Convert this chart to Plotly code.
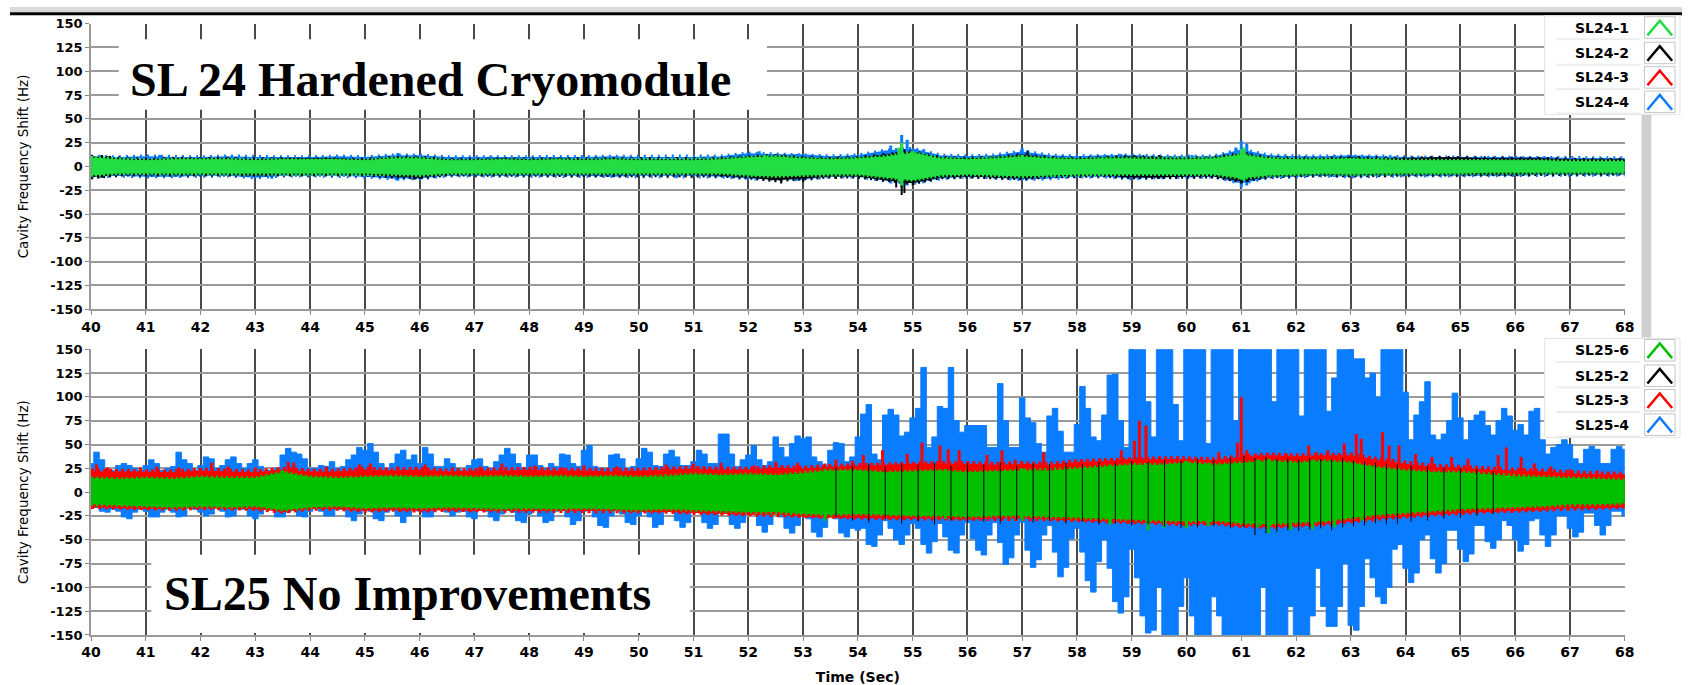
import plotly.graph_objects as go

W, H = 1692, 685

# ---------------- time grids ----------------
T_HALF = [40 + 0.5 * i for i in range(57)]            # 40.0 .. 68.0 step 0.5
T_TENTH = [round(40 + 0.1 * i, 1) for i in range(281)]  # 40.0 .. 68.0 step 0.1

X_TICKS = list(range(40, 69))
Y_TICKS = list(range(-150, 151, 25))

# ---------------- SL24 (top) envelopes, 0.5 s grid ----------------
TOP_G_UP = [9, 7, 6, 7, 7, 7, 6, 7, 7, 7,
            6, 8, 8, 6, 6, 7, 6, 7, 6, 7,
            6, 6, 6, 7, 9, 10, 8, 7, 8, 10,
            14, 8, 7, 8, 10, 8, 7, 8, 8, 7,
            7, 8, 12, 8, 7, 7, 8, 7, 6, 6,
            6, 6, 6, 6, 5, 5, 5]
TOP_G_LO = [-9, -7, -7, -7, -7, -7, -7, -7, -7, -7,
            -7, -8, -9, -7, -7, -7, -7, -7, -7, -7,
            -7, -7, -7, -7, -9, -10, -9, -8, -8, -11,
            -14, -9, -8, -9, -10, -9, -8, -8, -8, -8,
            -8, -8, -12, -9, -8, -7, -8, -7, -7, -7,
            -7, -6, -6, -6, -6, -6, -6]
TOP_K_UP = [10, 8, 7, 8, 8, 8, 7, 8, 8, 8,
            7, 9, 9, 7, 7, 8, 7, 8, 7, 8,
            7, 7, 7, 8, 10, 11, 9, 8, 9, 12,
            15, 9, 8, 9, 12, 9, 8, 9, 10, 9,
            8, 9, 13, 9, 8, 8, 9, 8, 8, 9,
            9, 8, 8, 8, 7, 7, 7]
TOP_K_LO = [-11, -8, -8, -8, -8, -8, -9, -8, -8, -8,
            -8, -10, -11, -8, -8, -8, -8, -8, -8, -8,
            -8, -8, -8, -9, -11, -14, -12, -10, -10, -14,
            -17, -11, -10, -11, -12, -10, -9, -9, -11, -11,
            -10, -10, -15, -10, -9, -8, -9, -8, -8, -8,
            -8, -8, -8, -7, -7, -7, -7]
TOP_B_UP = [10, 9, 10, 9, 9, 10, 9, 9, 9, 10,
            9, 11, 11, 9, 9, 9, 9, 9, 9, 10,
            9, 9, 9, 10, 13, 12, 12, 10, 11, 16,
            18, 11, 10, 11, 15, 11, 10, 11, 11, 10,
            10, 10, 17, 11, 10, 10, 11, 10, 9, 9,
            9, 9, 9, 9, 8, 8, 8]
TOP_B_LO = [-10, -9, -10, -10, -9, -9, -11, -9, -9, -9,
            -10, -12, -12, -9, -9, -9, -9, -9, -9, -10,
            -9, -9, -9, -10, -12, -13, -13, -10, -10, -14,
            -17, -12, -10, -11, -13, -12, -10, -10, -12, -11,
            -10, -10, -17, -11, -10, -9, -10, -9, -9, -9,
            -9, -9, -9, -8, -8, -8, -8]
TOP_R_UP = [8, 7, 7, 7, 7, 7, 7, 7, 7, 7,
            7, 8, 8, 7, 7, 7, 7, 7, 7, 7,
            7, 7, 7, 7, 8, 9, 8, 7, 8, 9,
            11, 8, 7, 8, 9, 8, 7, 8, 8, 7,
            7, 8, 10, 8, 7, 7, 8, 7, 7, 7,
            7, 6, 6, 6, 6, 6, 6]
TOP_R_LO = [-8, -7, -7, -7, -7, -7, -7, -7, -7, -7,
            -7, -8, -8, -7, -7, -7, -7, -7, -7, -7,
            -7, -7, -7, -7, -8, -9, -8, -7, -8, -9,
            -11, -8, -7, -8, -9, -8, -7, -8, -8, -7,
            -7, -8, -10, -8, -7, -7, -8, -7, -7, -7,
            -7, -6, -6, -6, -6, -6, -6]

# SL24 bursts (time, high, low)
TOP_B_SPK_T = [41.25, 43.3, 45.6, 45.9, 47.3, 50.7, 52.2, 52.9, 53.9, 54.6, 54.8, 54.9,
               55.2, 56.1, 57.0, 57.1, 58.8, 60.1, 60.9, 61.0, 61.1, 62.7, 63.4]
TOP_B_SPK_HI = [12, 9, 14, 12, 11, 10, 16, 13, 12, 22, 33, 28,
                18, 10, 19, 17, 13, 12, 20, 27, 24, 12, 11]
TOP_B_SPK_LO = [-9, -13, -15, -13, -10, -12, -13, -15, -11, -18, -22, -20,
                -14, -12, -14, -12, -10, -12, -16, -22, -20, -11, -10]
TOP_K_SPK_T = [40.2, 40.3, 45.9, 46.0, 52.6, 53.0, 53.6, 54.7, 54.8, 54.85, 55.3,
               56.5, 57.1, 59.5, 61.0, 61.1]
TOP_K_SPK_HI = [12, 11, 10, 10, 12, 11, 10, 15, 20, 18, 12, 11, 16, 12, 16, 15]
TOP_K_SPK_LO = [-12, -10, -14, -13, -18, -16, -13, -22, -30, -28, -15, -12, -13, -13, -18, -16]
TOP_G_SPK_T = [52.3, 54.75, 54.8, 55.0, 57.0, 61.0, 61.05]
TOP_G_SPK_HI = [12, 20, 25, 16, 12, 18, 20]
TOP_G_SPK_LO = [-10, -16, -20, -14, -10, -14, -15]

# ---------------- SL25 (bottom) envelopes, 0.5 s grid ----------------
GRN_UP = [14, 13, 14, 13, 15, 14, 14, 20, 15, 14,
          15, 16, 15, 16, 15, 16, 15, 16, 15, 16,
          15, 16, 18, 17, 18, 17, 19, 22, 22, 20,
          21, 22, 20, 21, 22, 22, 24, 26, 28, 28,
          30, 28, 30, 32, 30, 32, 30, 25, 22, 20,
          20, 18, 16, 15, 14, 13, 12]
GRN_LO = [-12, -13, -14, -15, -14, -15, -14, -18, -15, -14,
          -16, -15, -16, -15, -16, -17, -16, -17, -16, -17,
          -18, -17, -18, -19, -20, -20, -22, -23, -22, -23,
          -24, -24, -25, -24, -24, -25, -26, -27, -28, -29,
          -30, -29, -32, -33, -31, -30, -26, -23, -21, -19,
          -17, -16, -15, -14, -12, -12, -11]
RED_UP = [21, 21, 21, 20, 22, 21, 20, 23, 21, 21,
          23, 22, 23, 21, 22, 22, 23, 22, 22, 21,
          22, 23, 24, 23, 23, 25, 24, 26, 27, 28,
          29, 29, 29, 28, 29, 28, 31, 32, 34, 34,
          34, 33, 36, 38, 37, 38, 38, 33, 29, 26,
          25, 23, 22, 21, 19, 18, 18]
RED_LO = [-15, -16, -17, -17, -16, -17, -17, -20, -17, -17,
          -19, -18, -19, -18, -19, -19, -19, -19, -19, -19,
          -20, -20, -21, -22, -23, -23, -25, -26, -26, -27,
          -27, -27, -28, -27, -27, -28, -29, -30, -31, -32,
          -33, -32, -35, -36, -35, -33, -30, -27, -25, -23,
          -21, -20, -19, -18, -16, -16, -15]

# SL25-4 (blue) envelope, 0.1 s grid
BLUE_UP = [30, 42, 34, 23, 23, 28, 30, 28, 25, 23,
           28, 34, 30, 23, 25, 27, 42, 34, 30, 23,
           28, 37, 35, 25, 28, 34, 37, 30, 25, 30,
           34, 27, 23, 23, 25, 39, 46, 42, 40, 35,
           25, 25, 28, 27, 32, 25, 27, 34, 39, 47,
           44, 51, 42, 30, 25, 30, 40, 44, 34, 39,
           30, 47, 40, 27, 27, 35, 30, 25, 23, 28,
           34, 35, 27, 25, 32, 39, 46, 40, 30, 25,
           39, 39, 28, 25, 30, 27, 40, 39, 30, 27,
           44, 49, 27, 25, 25, 39, 40, 35, 25, 27,
           35, 46, 42, 28, 27, 40, 44, 37, 28, 28,
           32, 44, 40, 30, 30, 61, 61, 40, 27, 34,
           39, 49, 34, 28, 32, 58, 47, 37, 51, 59,
           56, 58, 37, 32, 28, 44, 52, 51, 32, 37,
           58, 82, 92, 40, 34, 81, 87, 81, 59, 63,
           78, 88, 131, 47, 58, 90, 88, 131, 75, 63,
           70, 70, 70, 70, 47, 47, 114, 75, 47, 47,
           99, 78, 73, 51, 42, 80, 88, 64, 42, 42,
           71, 111, 88, 58, 54, 81, 123, 124, 75, 47,
           150, 150, 150, 95, 58, 150, 150, 150, 92, 54,
           150, 150, 150, 150, 51, 150, 150, 150, 150, 75,
           150, 150, 150, 150, 150, 150, 95, 150, 150, 150,
           150, 80, 150, 150, 150, 150, 85, 120, 150, 150,
           150, 140, 140, 120, 125, 100, 150, 150, 150, 150,
           105, 55, 81, 95, 116, 60, 55, 61, 75, 104,
           78, 55, 75, 81, 85, 70, 60, 75, 88, 80,
           65, 71, 60, 85, 88, 55, 40, 47, 50, 55,
           50, 35, 30, 45, 48, 45, 30, 30, 45, 48,
           45]
BLUE_LO = [-13, -16, -20, -21, -18, -20, -26, -28, -21, -18,
           -20, -26, -26, -21, -18, -21, -26, -25, -16, -18,
           -21, -25, -23, -16, -20, -26, -25, -18, -18, -25,
           -28, -23, -18, -18, -26, -26, -21, -16, -25, -26,
           -20, -16, -20, -25, -25, -18, -18, -26, -30, -23,
           -16, -20, -28, -30, -21, -18, -25, -32, -25, -18,
           -20, -26, -26, -18, -16, -21, -25, -21, -20, -26,
           -28, -18, -20, -26, -30, -23, -18, -21, -30, -32,
           -23, -18, -25, -32, -30, -20, -18, -26, -34, -30,
           -20, -18, -26, -35, -37, -25, -18, -23, -32, -34,
           -25, -18, -26, -37, -34, -20, -20, -30, -37, -32,
           -20, -21, -32, -38, -34, -20, -21, -34, -38, -32,
           -20, -23, -35, -42, -34, -21, -26, -38, -43, -35,
           -21, -28, -42, -47, -37, -23, -28, -43, -47, -38,
           -40, -38, -55, -57, -45, -30, -38, -50, -55, -45,
           -33, -38, -55, -64, -52, -33, -47, -61, -64, -45,
           -32, -49, -61, -66, -45, -32, -53, -76, -69, -45,
           -32, -61, -79, -71, -45, -35, -63, -89, -79, -49,
           -38, -63, -93, -105, -73, -50, -80, -115, -127, -110,
           -60, -90, -130, -148, -145, -100, -150, -150, -150, -120,
           -90, -130, -150, -150, -150, -110, -130, -150, -150, -150,
           -150, -150, -150, -150, -100, -150, -150, -150, -150, -120,
           -150, -150, -150, -130, -80, -120, -141, -141, -120, -75,
           -140, -145, -120, -70, -90, -110, -117, -100, -60, -55,
           -80, -95, -85, -50, -45, -70, -85, -75, -40, -40,
           -60, -73, -65, -35, -35, -52, -59, -50, -30, -35,
           -50, -62, -55, -30, -28, -45, -57, -45, -25, -25,
           -38, -47, -42, -22, -22, -35, -45, -35, -20, -20,
           -25]

# SL25 spikes
RED_SPK_T = [40.1, 40.3, 40.9, 41.2, 41.6, 42.2, 42.5, 43.0, 43.6, 43.7, 44.3, 44.9, 45.1,
             45.6, 46.1, 46.6, 47.1, 47.5, 48.1, 48.6, 49.0, 49.6, 50.5, 51.0, 51.5, 52.1,
             52.5, 52.9, 53.4, 53.6, 53.9, 54.1, 54.45, 54.9, 55.17, 55.5, 55.65, 55.85,
             56.36, 56.63, 56.87, 57.39, 57.9, 58.03, 58.42, 58.81, 59.05, 59.14, 59.26,
             59.62, 59.83, 60.59, 60.93, 61.0, 61.1, 61.29, 61.45, 61.83, 62.23, 62.37,
             62.58, 62.88, 63.1, 63.19, 63.58, 63.7, 63.88, 64.18, 64.48, 64.84, 65.14,
             65.69, 65.84, 66.11, 66.35, 66.65, 67.0, 67.5]
RED_SPK_HI = [29, 26, 26, 27, 26, 31, 27, 26, 32, 31, 27, 29, 30,
              27, 29, 26, 27, 30, 28, 26, 28, 27, 29, 30, 31, 28,
              32, 31, 30, 34, 33, 39, 44, 40, 52, 49, 45, 44,
              39, 44, 34, 42, 28, 32, 35, 44, 54, 75, 70,
              32, 37, 42, 52, 100, 44, 39, 34, 40, 49, 42,
              44, 51, 61, 56, 63, 49, 49, 40, 37, 37, 35,
              39, 47, 37, 30, 27, 24, 23]
BLK_SPK_T = [53.6, 53.9, 54.2, 54.5, 54.8, 55.1, 55.4, 55.7, 56.0, 56.3, 56.6, 56.9, 57.2,
             57.5, 57.8, 58.1, 58.4, 58.7, 59.0, 59.3, 59.6, 59.9, 60.2, 60.5, 60.8,
             61.05, 61.25, 61.45, 61.65, 61.85, 62.05, 62.25, 62.45, 62.65, 62.85, 63.05,
             63.25, 63.45, 63.65, 63.85, 64.1, 64.4, 64.7, 65.0, 65.3, 65.6]
BLK_SPK_HI = [26, 28, 30, 27, 30, 29, 31, 28, 30, 29, 31, 28, 30, 29, 31, 30, 32, 31, 33,
              32, 34, 33, 35, 34, 36, 38, 36, 37, 35, 36, 34, 36, 35, 34, 36, 33, 32, 31,
              30, 29, 28, 27, 26, 25, 24, 22]
BLK_SPK_LO = [-26, -30, -32, -28, -33, -31, -34, -30, -32, -31, -33, -29, -32, -30, -33,
              -31, -34, -33, -35, -34, -36, -38, -37, -36, -38, -37, -45, -43, -42, -40,
              -41, -39, -38, -40, -37, -36, -35, -33, -34, -33, -31, -30, -28, -27, -25, -23]
GRN_SPK_T = [43.5, 53.4, 55.6, 57.0, 58.6, 59.3, 59.6, 60.0, 60.4, 61.3, 61.5, 61.9, 62.3, 62.7, 63.2]
GRN_SPK_HI = [23, 24, 24, 25, 29, 31, 30, 33, 31, 34, 35, 33, 34, 32, 28]
GRN_SPK_LO = [-19, -30, -28, -30, -34, -40, -37, -38, -36, -37, -43, -40, -39, -37, -30]

TOP_NAMES = ["SL24-1", "SL24-2", "SL24-3", "SL24-4"]
BOT_NAMES = ["SL25-6", "SL25-2", "SL25-3", "SL25-4"]

C_GREEN_TOP = "#22dd44"
C_GREEN_BOT = "#00c000"
C_BLACK = "#000000"
C_RED = "#ff0000"
C_BLUE = "#0a7cff"
TOP_COLORS = [C_GREEN_TOP, C_BLACK, C_RED, C_BLUE]
BOT_COLORS = [C_GREEN_BOT, C_BLACK, C_RED, C_BLUE]

for arr in [TOP_G_UP, TOP_G_LO, TOP_K_UP, TOP_K_LO, TOP_B_UP, TOP_B_LO, TOP_R_UP, TOP_R_LO,
            GRN_UP, GRN_LO, RED_UP, RED_LO]:
    assert len(arr) == len(T_HALF), len(arr)
assert len(BLUE_UP) == len(T_TENTH) and len(BLUE_LO) == len(T_TENTH)
assert len(RED_SPK_T) == len(RED_SPK_HI)


def band(t, up, lo, color, xa, ya, lw=1.5, shape="linear"):
    return go.Scatter(x=list(t) + list(t)[::-1], y=list(up) + list(lo)[::-1], mode="lines",
                      fill="toself", fillcolor=color, line=dict(color=color, width=lw, shape=shape),
                      xaxis=xa, yaxis=ya, hoverinfo="skip", showlegend=False)


def edge(t, vals, color, xa, ya, lw=5, dash="2px,3px"):
    # serrated stroke along an envelope edge to give the band its dense-stroke look
    return go.Scatter(x=t, y=vals, mode="lines", line=dict(color=color, width=lw, dash=dash),
                      xaxis=xa, yaxis=ya, hoverinfo="skip", showlegend=False)


def spikes(t, hi, lo, color, xa, ya, lw=3):
    xs, ys = [], []
    for ti, h, l in zip(t, hi, lo):
        xs += [ti, ti, None]
        ys += [l, h, None]
    return go.Scatter(x=xs, y=ys, mode="lines", line=dict(color=color, width=lw),
                      xaxis=xa, yaxis=ya, hoverinfo="skip", showlegend=False)


fig = go.Figure()
# top (SL24): red, blue, black, green
fig.add_trace(band(T_HALF, TOP_R_UP, TOP_R_LO, C_RED, "x", "y"))
fig.add_trace(band(T_HALF, TOP_B_UP, TOP_B_LO, C_BLUE, "x", "y"))
fig.add_trace(edge(T_HALF, TOP_B_UP, C_BLUE, "x", "y", 5, "2px,5px"))
fig.add_trace(edge(T_HALF, TOP_B_LO, C_BLUE, "x", "y", 5, "2px,6px"))
fig.add_trace(spikes(TOP_B_SPK_T, TOP_B_SPK_HI, TOP_B_SPK_LO, C_BLUE, "x", "y"))
fig.add_trace(band(T_HALF, TOP_K_UP, TOP_K_LO, C_BLACK, "x", "y", 1))
fig.add_trace(edge(T_HALF, TOP_K_LO, C_BLACK, "x", "y", 5, "2px,4px"))
fig.add_trace(edge(T_HALF, TOP_K_UP, C_BLACK, "x", "y", 4, "2px,7px"))
fig.add_trace(spikes(TOP_K_SPK_T, TOP_K_SPK_HI, TOP_K_SPK_LO, C_BLACK, "x", "y", 2))
fig.add_trace(band(T_HALF, TOP_G_UP, TOP_G_LO, C_GREEN_TOP, "x", "y", 1))
fig.add_trace(edge(T_HALF, TOP_G_UP, C_GREEN_TOP, "x", "y", 4, "2px,2px"))
fig.add_trace(edge(T_HALF, TOP_G_LO, C_GREEN_TOP, "x", "y", 4, "2px,2px"))
fig.add_trace(spikes(TOP_G_SPK_T, TOP_G_SPK_HI, TOP_G_SPK_LO, C_GREEN_TOP, "x", "y"))

# bottom (SL25): blue, red, green, black lines over green
fig.add_trace(band(T_TENTH, BLUE_UP, BLUE_LO, C_BLUE, "x2", "y2", 1, "hvh"))
fig.add_trace(band(T_HALF, RED_UP, RED_LO, C_RED, "x2", "y2"))
fig.add_trace(edge(T_HALF, RED_UP, C_RED, "x2", "y2", 7, "3px,3px"))
fig.add_trace(edge(T_HALF, RED_LO, C_RED, "x2", "y2", 5, "3px,4px"))
fig.add_trace(spikes(RED_SPK_T, RED_SPK_HI, [0] * len(RED_SPK_T), C_RED, "x2", "y2", 3))
fig.add_trace(band(T_HALF, GRN_UP, GRN_LO, C_GREEN_BOT, "x2", "y2"))
fig.add_trace(edge(T_HALF, GRN_UP, C_GREEN_BOT, "x2", "y2", 5, "2px,3px"))
fig.add_trace(edge(T_HALF, GRN_LO, C_GREEN_BOT, "x2", "y2", 5, "2px,3px"))
fig.add_trace(spikes(GRN_SPK_T, GRN_SPK_HI, GRN_SPK_LO, C_GREEN_BOT, "x2", "y2", 3))
fig.add_trace(spikes(BLK_SPK_T, BLK_SPK_HI, BLK_SPK_LO, C_BLACK, "x2", "y2", 1))


def px(p):
    return p / W


def py(p):
    return 1 - p / H


tick_font_x = dict(family="DejaVu Sans", size=14, color="black", weight="bold")
tick_font_y = dict(family="DejaVu Sans", size=13, color="black", weight="bold")


def xaxis(domain, anchor, title=None):
    d = dict(domain=domain, anchor=anchor, range=[40, 68], tickmode="array", tickvals=X_TICKS,
             ticktext=[str(v) for v in X_TICKS], showgrid=True, gridcolor="#4a4a4a", gridwidth=1.5,
             ticks="outside", ticklen=4, tickcolor="#888", tickfont=tick_font_x,
             showline=True, linecolor="#9a9a9a", linewidth=1.5, zeroline=False, fixedrange=True)
    if title:
        d["title"] = dict(text=title, font=dict(family="DejaVu Sans", size=14, color="black",
                                                weight="bold"), standoff=13)
    return d


def yaxis(domain, anchor):
    return dict(domain=domain, anchor=anchor, range=[-150, 150], tickmode="array", tickvals=Y_TICKS,
                ticktext=[str(v) for v in Y_TICKS], showgrid=True, gridcolor="#9a9a9a", gridwidth=1.5,
                ticks="outside", ticklen=4, tickcolor="#888", tickfont=tick_font_y,
                showline=True, linecolor="#9a9a9a", linewidth=1.5, zeroline=False, fixedrange=True,
                title=dict(text="Cavity Frequency Shift (Hz)",
                           font=dict(family="DejaVu Sans", size=13.5, color="black"), standoff=18))


XD = [px(82), px(1634)]
fig.update_layout(
    width=W, height=H, margin=dict(l=0, r=0, t=0, b=0),
    paper_bgcolor="white", plot_bgcolor="white", showlegend=False,
    xaxis=xaxis(XD, "y"), yaxis=yaxis([py(309), py(17)], "x"),
    xaxis2=xaxis(XD, "y2", "Time (Sec)"), yaxis2=yaxis([py(642), py(350)], "x2"),
)

shapes = []
annotations = []
# header remnants
shapes.append(dict(type="rect", xref="paper", yref="paper", x0=0, x1=1, y0=py(5), y1=1,
                   fillcolor="#d9d9d9", line=dict(width=0), layer="above"))
shapes.append(dict(type="line", xref="paper", yref="paper", x0=0, x1=1, y0=py(7), y1=py(7),
                   line=dict(color="black", width=3), layer="above"))

# text boxes
shapes.append(dict(type="rect", xref="paper", yref="paper", x0=px(110), x1=px(766), y0=py(105),
                   y1=py(33), fillcolor="white", line=dict(width=0), layer="above"))
annotations.append(dict(xref="paper", yref="paper", x=px(426), y=py(74), showarrow=False,
                        text="<b>SL 24 Hardened Cryomodule</b>", xanchor="center", yanchor="middle",
                        font=dict(family="Liberation Serif", size=48, color="black")))
shapes.append(dict(type="rect", xref="paper", yref="paper", x0=px(143), x1=px(688), y0=py(640),
                   y1=py(560), fillcolor="white", line=dict(width=0), layer="above"))
annotations.append(dict(xref="paper", yref="paper", x=px(402), y=py(600), showarrow=False,
                        text="<b>SL25 No Improvements</b>", xanchor="center", yanchor="middle",
                        font=dict(family="Liberation Serif", size=48, color="black")))

# right-side gray bar
shapes.append(dict(type="rect", xref="paper", yref="paper", x0=px(1651), x1=px(1661), y0=py(338),
                   y1=py(110), fillcolor="#cfcfcf", line=dict(width=0), layer="above"))


def legend(names, colors, centers, top, bottom):
    shapes.append(dict(type="rect", xref="paper", yref="paper", x0=px(1553), x1=px(1690),
                       y0=py(bottom), y1=py(top), fillcolor="white",
                       line=dict(color="#e4e4e4", width=1), layer="above"))
    for name, col, c in zip(names, colors, centers):
        shapes.append(dict(type="line", xref="paper", yref="paper", x0=px(1565), x1=px(1650),
                           y0=py(c + 12), y1=py(c + 12), line=dict(color="#ececec", width=2),
                           layer="above"))
        shapes.append(dict(type="rect", xref="paper", yref="paper", x0=px(1654), x1=px(1685),
                           y0=py(c + 11), y1=py(c - 11), fillcolor="white",
                           line=dict(color="#c4c4c4", width=1), layer="above"))
        path = "M {:.5f},{:.5f} L {:.5f},{:.5f} L {:.5f},{:.5f}".format(
            px(1657), py(c + 8), px(1669.5), py(c - 7), px(1682), py(c + 8))
        shapes.append(dict(type="path", xref="paper", yref="paper", path=path,
                           line=dict(color=col, width=2.5), layer="above"))
        annotations.append(dict(xref="paper", yref="paper", x=px(1640), y=py(c), showarrow=False,
                                text="<b>%s</b>" % name, xanchor="right", yanchor="middle",
                                font=dict(family="DejaVu Sans", size=14, color="black")))


legend(TOP_NAMES, TOP_COLORS, [21, 47, 72, 97], 9, 110)
legend(BOT_NAMES, BOT_COLORS, [351, 377, 402, 427], 339, 440)

fig.update_layout(shapes=shapes, annotations=annotations)
fig.write_html("out.html")
